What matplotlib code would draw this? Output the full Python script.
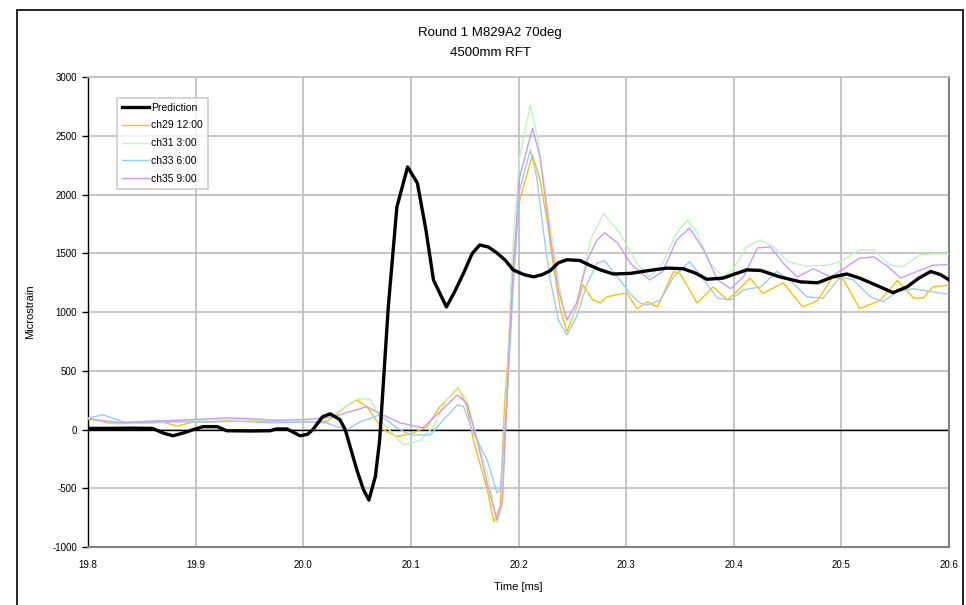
import matplotlib
matplotlib.use('Agg')
import matplotlib.pyplot as plt
from matplotlib.patches import Rectangle

plt.rcParams['font.family'] = ['Liberation Sans', 'DejaVu Sans']
plt.rcParams['axes.unicode_minus'] = False

# Prediction (black)
t_pred = [19.800, 19.820, 19.840, 19.860, 19.870, 19.879, 19.890, 19.898, 19.907, 19.920,
          19.929, 19.950, 19.969, 19.975, 19.985, 19.997, 20.004, 20.009, 20.018, 20.025,
          20.034, 20.039, 20.050, 20.056, 20.061, 20.067, 20.071, 20.079, 20.087, 20.097,
          20.106, 20.114, 20.121, 20.133, 20.141, 20.149, 20.157, 20.164, 20.172, 20.180,
          20.188, 20.195, 20.205, 20.214, 20.222, 20.229, 20.237, 20.245, 20.257, 20.266,
          20.276, 20.288, 20.304, 20.320, 20.338, 20.353, 20.365, 20.375, 20.390, 20.412,
          20.425, 20.443, 20.462, 20.478, 20.492, 20.505, 20.517, 20.536, 20.548, 20.561,
          20.572, 20.583, 20.592, 20.600]
prediction = [10, 10, 12, 10, -30, -53, -25, 0, 25, 25,
              -10, -12, -10, 5, 5, -53, -40, 0, 110, 134,
              85, 0, -350, -512, -600, -400, -90, 1044, 1896, 2236,
              2100, 1700, 1274, 1044, 1180, 1333, 1500, 1572, 1555, 1504,
              1440, 1360, 1320, 1300, 1320, 1350, 1420, 1446, 1440, 1400,
              1360, 1325, 1330, 1353, 1375, 1370, 1330, 1280, 1290, 1360,
              1355, 1300, 1258, 1250, 1300, 1325, 1290, 1215, 1166, 1215,
              1290, 1346, 1320, 1275]

# ch29 12:00 (yellow)
t_ch29 = [19.800, 19.818, 19.830, 19.848, 19.867, 19.883, 19.898, 19.916, 19.941, 19.966,
          20.003, 20.022, 20.028, 20.040, 20.050, 20.059, 20.074, 20.087, 20.102, 20.115,
          20.127, 20.144, 20.152, 20.158, 20.171, 20.177, 20.183, 20.187, 20.190, 20.195,
          20.201, 20.213, 20.220, 20.227, 20.232, 20.239, 20.245, 20.254, 20.260, 20.269,
          20.276, 20.282, 20.294, 20.301, 20.310, 20.320, 20.329, 20.344, 20.350, 20.366,
          20.381, 20.394, 20.403, 20.415, 20.427, 20.446, 20.464, 20.478, 20.492, 20.502,
          20.517, 20.536, 20.552, 20.567, 20.576, 20.585, 20.600]
ch29 = [100, 57, 50, 67, 70, 30, 65, 65, 90, 65,
        65, 70, 110, 200, 252, 195, 0, -60, -30, 25,
        195, 355, 195, -88, -514, -785, -657, 200, 600, 1430,
        1955, 2338, 2125, 1758, 1417, 1017, 834, 1044, 1232, 1104,
        1078, 1130, 1155, 1160, 1030, 1087, 1044, 1345, 1330, 1078,
        1215, 1104, 1175, 1290, 1160, 1250, 1044, 1100, 1300, 1275,
        1030, 1100, 1270, 1120, 1120, 1215, 1230]

# ch31 3:00 (green)
t_ch31 = [19.800, 19.830, 19.855, 19.880, 19.907, 19.941, 19.972, 20.004, 20.025, 20.040,
          20.050, 20.062, 20.074, 20.093, 20.109, 20.121, 20.133, 20.143, 20.152, 20.162,
          20.171, 20.180, 20.185, 20.194, 20.201, 20.211, 20.218, 20.227, 20.236, 20.243,
          20.250, 20.257, 20.267, 20.279, 20.294, 20.310, 20.322, 20.334, 20.347, 20.357,
          20.366, 20.378, 20.390, 20.399, 20.412, 20.425, 20.437, 20.450, 20.468, 20.487,
          20.499, 20.517, 20.530, 20.545, 20.557, 20.573, 20.585, 20.600]
ch31 = [90, 50, 55, 70, 80, 85, 80, 90, 100, 200,
        260, 260, 57, -130, -90, 25, 250, 355, 250, -90,
        -375, -795, -650, 1470, 2320, 2764, 2466, 1896, 1333, 960,
        933, 1190, 1615, 1840, 1675, 1417, 1300, 1417, 1675, 1785,
        1675, 1417, 1300, 1360, 1556, 1615, 1556, 1430, 1390, 1400,
        1430, 1530, 1530, 1400, 1387, 1487, 1495, 1495]

# ch33 6:00 (blue)
t_ch33 = [19.800, 19.814, 19.833, 19.855, 19.879, 19.911, 19.941, 19.972, 20.004, 20.022,
          20.031, 20.041, 20.053, 20.071, 20.087, 20.099, 20.118, 20.130, 20.143, 20.149,
          20.158, 20.171, 20.180, 20.183, 20.189, 20.195, 20.201, 20.211, 20.217, 20.223,
          20.229, 20.237, 20.245, 20.254, 20.264, 20.273, 20.280, 20.292, 20.304, 20.313,
          20.320, 20.332, 20.344, 20.359, 20.372, 20.385, 20.397, 20.409, 20.425, 20.440,
          20.452, 20.468, 20.483, 20.499, 20.511, 20.527, 20.539, 20.552, 20.567, 20.600]
ch33 = [100, 125, 65, 57, 65, 65, 70, 57, 65, 57,
        25, 0, 67, 125, 15, -45, -45, 80, 210, 195,
        -30, -260, -540, -510, 195, 1200, 2040, 2381, 2150, 1700,
        1300, 933, 805, 960, 1248, 1417, 1438, 1300, 1155, 1078,
        1060, 1104, 1300, 1430, 1275, 1120, 1104, 1190, 1215, 1346,
        1275, 1130, 1120, 1300, 1275, 1130, 1090, 1175, 1200, 1150]

# ch35 9:00 (purple)
t_ch35 = [19.800, 19.833, 19.855, 19.886, 19.929, 19.948, 19.972, 20.004, 20.028, 20.050,
          20.059, 20.074, 20.090, 20.111, 20.127, 20.143, 20.152, 20.162, 20.171, 20.180,
          20.185, 20.194, 20.201, 20.213, 20.220, 20.229, 20.237, 20.245, 20.254, 20.264,
          20.273, 20.280, 20.292, 20.304, 20.313, 20.322, 20.334, 20.347, 20.359, 20.372,
          20.385, 20.397, 20.409, 20.422, 20.434, 20.446, 20.459, 20.474, 20.490, 20.502,
          20.517, 20.530, 20.543, 20.555, 20.570, 20.585, 20.600]
ch35 = [90, 57, 70, 80, 100, 95, 80, 85, 110, 170,
        195, 125, 57, 15, 150, 295, 225, -110, -460, -770,
        -600, 1190, 2150, 2566, 2320, 1675, 1190, 933, 1078, 1445,
        1615, 1675, 1590, 1417, 1340, 1275, 1346, 1615, 1717, 1530,
        1275, 1200, 1300, 1547, 1556, 1417, 1300, 1370, 1300, 1370,
        1460, 1470, 1390, 1290, 1346, 1400, 1404]

x_ticks = [19.8, 19.9, 20.0, 20.1, 20.2, 20.3, 20.4, 20.5, 20.6]
x_ticklabels = ['19.8', '19.9', '20.0', '20.1', '20.2', '20.3', '20.4', '20.5', '20.6']
y_ticks = [-1000, -500, 0, 500, 1000, 1500, 2000, 2500, 3000]

fig = plt.figure(figsize=(9.66, 6.05), dpi=100)
ax = fig.add_axes([88/966, 1 - 547/605, (949-88)/966, (547-77.3)/605])

# chart area border
fig.patches.append(Rectangle((17/966, -0.02), (963-17)/966, 1.02 - 10/605,
                             transform=fig.transFigure, fill=False,
                             edgecolor='black', linewidth=1.2))

ax.plot(t_ch29, ch29, color='#FFC000', lw=1.0, label='ch29 12:00', zorder=3)
ax.plot(t_ch31, ch31, color='#BDF5BD', lw=1.0, label='ch31 3:00', zorder=3)
ax.plot(t_ch33, ch33, color='#99CCFF', lw=1.0, label='ch33 6:00', zorder=3)
ax.plot(t_ch35, ch35, color='#CC99FF', lw=1.0, label='ch35 9:00', zorder=3)
ax.plot(t_pred, prediction, color='black', lw=2.4, label='Prediction', zorder=4)
ax.axhline(0, color='black', lw=1.0, zorder=2)

ax.set_xlim(19.8, 20.6)
ax.set_ylim(-1000, 3000)
ax.set_xticks(x_ticks)
ax.set_xticklabels(x_ticklabels)
ax.set_yticks(y_ticks)
ax.grid(True, color='#c0c0c0', lw=1.3)
ax.set_axisbelow(True)
ax.tick_params(axis='x', length=0, pad=9, labelsize=7)
ax.tick_params(axis='y', length=4, width=1, direction='out', pad=4, labelsize=7)

ax.spines['left'].set_color('black')
ax.spines['left'].set_linewidth(1.0)
for s in ['bottom', 'right']:
    ax.spines[s].set_color('#808080')
    ax.spines[s].set_linewidth(1.5)
ax.spines['top'].set_color('#c0c0c0')
ax.spines['top'].set_linewidth(1.3)

ax.set_xlabel('Time [ms]', fontsize=8)
ax.xaxis.set_label_coords(0.5, -(582 - 547) / 469.7)
ax.set_ylabel('Microstrain', fontsize=8)
ax.yaxis.set_label_coords(-(88 - 35) / 861, 0.5)

fig.text(490/966, 1 - 33/605, 'Round 1 M829A2 70deg', ha='center', va='center', fontsize=9.5)
fig.text(490/966, 1 - 53/605, '4500mm RFT', ha='center', va='center', fontsize=9.5)

h, l = ax.get_legend_handles_labels()
order = [4, 0, 1, 2, 3]
leg = ax.legend([h[i] for i in order], [l[i] for i in order],
                loc='upper left', bbox_to_anchor=(0.034, 0.956), fontsize=7.5,
                frameon=True, fancybox=False, edgecolor='#c0c0c0',
                handlelength=2.6, handletextpad=0.2, labelspacing=0.75,
                borderpad=0.45, borderaxespad=0)
leg.get_frame().set_linewidth(1.2)

fig.savefig('out.png', dpi=100)
